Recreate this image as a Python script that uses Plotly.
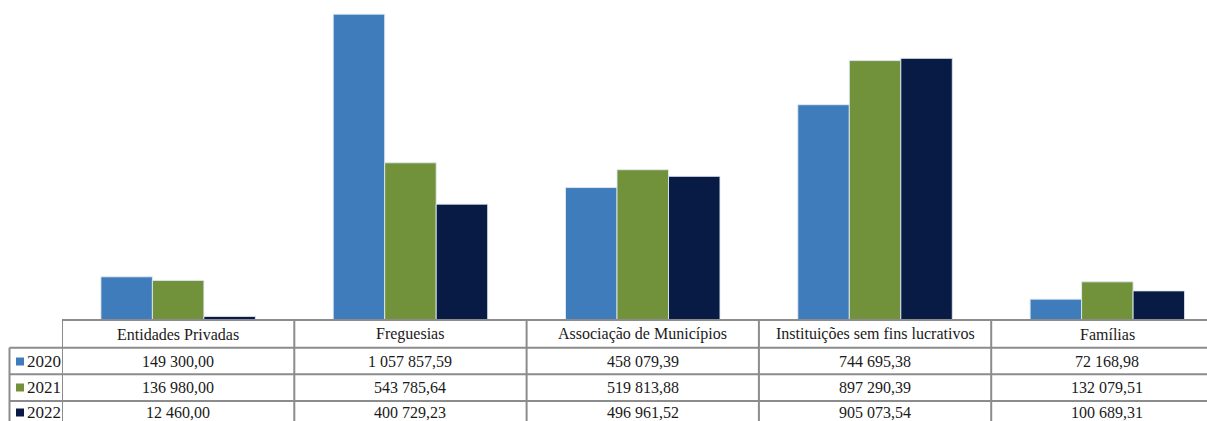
import plotly.graph_objects as go

categories = ["Entidades Privadas", "Freguesias", "Associação de Municípios",
              "Instituições sem fins lucrativos", "Famílias"]
years = ["2020", "2021", "2022"]
v2020 = [149300.00, 1057857.59, 458079.39, 744695.38, 72168.98]
v2021 = [136980.00, 543785.64, 519813.88, 897290.39, 132079.51]
v2022 = [12460.00, 400729.23, 496961.52, 905073.54, 100689.31]
series = [v2020, v2021, v2022]
colors = ["#3F7CBB", "#71913A", "#081B45"]

W, H = 1207, 421
ML, MR, MT, MB = 62, 0, 2, 101
PW, PH = W - ML - MR, H - MT - MB
COLW = 232.3          # width of one category column in pixels (chart runs past the right edge)
FONT = "Liberation Serif"


def px(x):   # pixel x -> paper
    return (x - ML) / PW


def py(y):   # pixel y -> paper
    return (H - MB - y) / PH


def fmt(v):
    return f"{v:,.2f}".replace(",", " ").replace(".", ",")


fig = go.Figure()
for yr, vals, c in zip(years, series, colors):
    fig.add_trace(go.Bar(x=list(range(len(categories))), y=vals, name=yr,
                         marker=dict(color=c, line=dict(color="rgba(225,233,244,0.9)", width=1))))

line = dict(color="#8c8c8c", width=2)
row_edges = [320, 347.7, 374.3, 401, 427.7]
text_y = [361.5, 387.5, 412.5]   # vertical centre of the text in each data row
shapes = []
# horizontal lines of the data table
for i, e in enumerate(row_edges):
    x0 = 0 if i == 0 else px(9.5)
    shapes.append(dict(type="line", xref="paper", yref="paper", x0=x0, x1=1,
                       y0=py(e), y1=py(e), line=line))
# vertical lines between categories
for i in range(len(categories)):
    shapes.append(dict(type="line", xref="x", yref="paper", x0=i - 0.5, x1=i - 0.5,
                       y0=py(320), y1=py(428), line=line))
shapes.append(dict(type="line", xref="paper", yref="paper", x0=px(9.5), x1=px(9.5),
                   y0=py(347.7), y1=py(428), line=line))

txt = dict(family=FONT, size=16, color="#1a1a1a")
annotations = []
for i, cat in enumerate(categories):
    annotations.append(dict(x=i, y=py(334), xref="x", yref="paper", text=cat,
                            xanchor="center", yanchor="middle", showarrow=False, font=txt))
for r, (yr, vals, c) in enumerate(zip(years, series, colors)):
    yc = text_y[r]
    for i, v in enumerate(vals):
        annotations.append(dict(x=i, y=py(yc), xref="x", yref="paper", text=fmt(v),
                                xanchor="center", yanchor="middle", showarrow=False, font=txt))
    annotations.append(dict(x=px(25), y=py(yc), xref="paper", yref="paper", text=yr,
                            xanchor="left", yanchor="middle", showarrow=False,
                            font=dict(family=FONT, size=17, color="#1a1a1a")))
    shapes.append(dict(type="rect", xref="paper", yref="paper", x0=px(16), x1=px(24),
                       y0=py(yc + 4), y1=py(yc - 4), fillcolor=c, line=dict(width=0)))

fig.update_layout(
    width=W, height=H,
    margin=dict(l=ML, r=MR, t=MT, b=MB),
    barmode="group", bargap=0.335, bargroupgap=0,
    plot_bgcolor="white", paper_bgcolor="white",
    showlegend=False,
    xaxis=dict(range=[-0.5, -0.5 + PW / COLW], showticklabels=False,
               showgrid=False, zeroline=False, ticks=""),
    yaxis=dict(range=[0, 1.1e6], visible=False, showgrid=False),
    shapes=shapes, annotations=annotations,
)

# the page body has a default 8px margin; drop it so the figure fills the window
fig.write_html("out.html", config={"displayModeBar": False},
               post_script="document.body.style.margin='0';")
